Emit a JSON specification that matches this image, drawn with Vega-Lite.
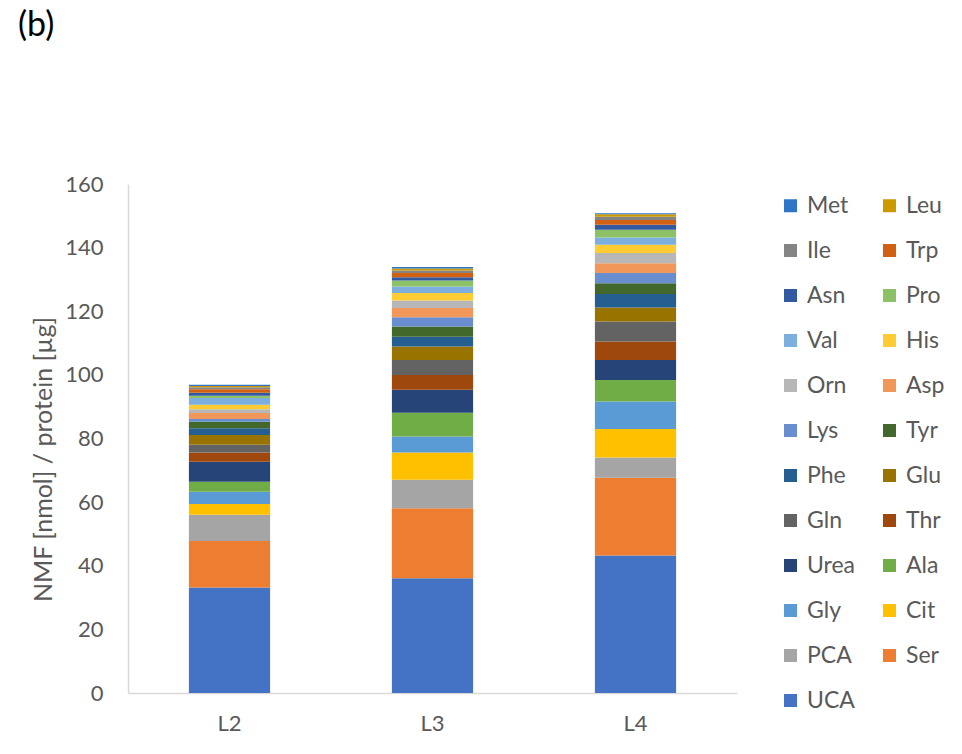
{
  "$schema": "https://vega.github.io/schema/vega-lite/v6.json",
  "autosize": {"type": "none"},
  "width": 609,
  "height": 509,
  "padding": {"left": 128, "top": 184, "right": 225, "bottom": 61},
  "background": "white",
  "title": {"text": "(b)", "anchor": "start", "frame": "group", "fontSize": 34, "fontWeight": "normal", "color": "black", "font": "Lato", "dx": -110, "offset": 130, "baseline": "top"},
  "config": {"view": {"stroke": null}, "font": "Lato"},
  "data": {"values": [
    {"s":"L2","aa":"UCA","k":1,"v":33.2},{"s":"L2","aa":"Ser","k":2,"v":14.6},{"s":"L2","aa":"PCA","k":3,"v":8.2},{"s":"L2","aa":"Cit","k":4,"v":3.4},{"s":"L2","aa":"Gly","k":5,"v":3.9},{"s":"L2","aa":"Ala","k":6,"v":3.1},{"s":"L2","aa":"Urea","k":7,"v":6.3},{"s":"L2","aa":"Thr","k":8,"v":2.9},{"s":"L2","aa":"Gln","k":9,"v":2.4},{"s":"L2","aa":"Glu","k":10,"v":3.1},{"s":"L2","aa":"Phe","k":11,"v":2.1},{"s":"L2","aa":"Tyr","k":12,"v":2.1},{"s":"L2","aa":"Lys","k":13,"v":0.8},{"s":"L2","aa":"Asp","k":14,"v":1.9},{"s":"L2","aa":"Orn","k":15,"v":1.2},{"s":"L2","aa":"His","k":16,"v":1.4},{"s":"L2","aa":"Val","k":17,"v":2.1},{"s":"L2","aa":"Pro","k":18,"v":0.7},{"s":"L2","aa":"Asn","k":19,"v":1.0},{"s":"L2","aa":"Trp","k":20,"v":1.1},{"s":"L2","aa":"Ile","k":21,"v":0.6},{"s":"L2","aa":"Leu","k":22,"v":0.4},{"s":"L2","aa":"Met","k":23,"v":0.4},
    {"s":"L3","aa":"UCA","k":1,"v":36.1},{"s":"L3","aa":"Ser","k":2,"v":22.0},{"s":"L3","aa":"PCA","k":3,"v":8.9},{"s":"L3","aa":"Cit","k":4,"v":8.6},{"s":"L3","aa":"Gly","k":5,"v":5.0},{"s":"L3","aa":"Ala","k":6,"v":7.5},{"s":"L3","aa":"Urea","k":7,"v":7.2},{"s":"L3","aa":"Thr","k":8,"v":4.7},{"s":"L3","aa":"Gln","k":9,"v":4.7},{"s":"L3","aa":"Glu","k":10,"v":4.2},{"s":"L3","aa":"Phe","k":11,"v":3.1},{"s":"L3","aa":"Tyr","k":12,"v":3.2},{"s":"L3","aa":"Lys","k":13,"v":2.9},{"s":"L3","aa":"Asp","k":14,"v":2.9},{"s":"L3","aa":"Orn","k":15,"v":2.4},{"s":"L3","aa":"His","k":16,"v":2.3},{"s":"L3","aa":"Val","k":17,"v":2.1},{"s":"L3","aa":"Pro","k":18,"v":1.9},{"s":"L3","aa":"Asn","k":19,"v":1.0},{"s":"L3","aa":"Trp","k":20,"v":1.3},{"s":"L3","aa":"Ile","k":21,"v":0.8},{"s":"L3","aa":"Leu","k":22,"v":0.6},{"s":"L3","aa":"Met","k":23,"v":0.5},
    {"s":"L4","aa":"UCA","k":1,"v":43.2},{"s":"L4","aa":"Ser","k":2,"v":24.5},{"s":"L4","aa":"PCA","k":3,"v":6.3},{"s":"L4","aa":"Cit","k":4,"v":9.0},{"s":"L4","aa":"Gly","k":5,"v":8.6},{"s":"L4","aa":"Ala","k":6,"v":6.8},{"s":"L4","aa":"Urea","k":7,"v":6.3},{"s":"L4","aa":"Thr","k":8,"v":5.8},{"s":"L4","aa":"Gln","k":9,"v":6.3},{"s":"L4","aa":"Glu","k":10,"v":4.4},{"s":"L4","aa":"Phe","k":11,"v":4.2},{"s":"L4","aa":"Tyr","k":12,"v":3.4},{"s":"L4","aa":"Lys","k":13,"v":3.2},{"s":"L4","aa":"Asp","k":14,"v":3.1},{"s":"L4","aa":"Orn","k":15,"v":3.2},{"s":"L4","aa":"His","k":16,"v":2.6},{"s":"L4","aa":"Val","k":17,"v":2.3},{"s":"L4","aa":"Pro","k":18,"v":2.4},{"s":"L4","aa":"Asn","k":19,"v":1.6},{"s":"L4","aa":"Trp","k":20,"v":1.5},{"s":"L4","aa":"Ile","k":21,"v":1.0},{"s":"L4","aa":"Leu","k":22,"v":0.8},{"s":"L4","aa":"Met","k":23,"v":0.3}
  ]},
  "mark": {"type": "bar"},
  "encoding": {
    "x": {"field": "s", "type": "nominal", "scale": {"paddingInner": 0.6, "paddingOuter": 0.3},
      "axis": {"title": null, "labelAngle": 0, "ticks": false, "domainColor": "#D9D9D9", "domainWidth": 1.5, "labelFontSize": 22, "labelColor": "#595959", "labelPadding": 20}},
    "y": {"field": "v", "type": "quantitative", "aggregate": "sum", "stack": "zero", "scale": {"domain": [0, 160], "nice": false},
      "axis": {"values": [0,20,40,60,80,100,120,140,160], "grid": false, "ticks": false, "domainColor": "#D9D9D9", "domainWidth": 1.5, "labelFontSize": 22, "labelColor": "#595959", "labelPadding": 25, "title": "NMF [nmol] / protein [µg]", "titleFontSize": 25, "titleFontWeight": "normal", "titleColor": "#595959", "titlePadding": 8, "titleY": 275}},
    "color": {"field": "aa", "type": "nominal",
      "scale": {"domain": ["Met","Ile","Asn","Val","Orn","Lys","Phe","Gln","Urea","Gly","PCA","UCA","Leu","Trp","Pro","His","Asp","Tyr","Glu","Thr","Ala","Cit","Ser"],
        "range": ["#2E75C6","#848484","#335AA1","#7CAFDD","#B7B7B7","#698ED0","#255E91","#636363","#264478","#5B9BD5","#A5A5A5","#4472C4","#CC9A00","#D26012","#8CC168","#FFCD33","#F1975A","#43682B","#997300","#9E480E","#70AD47","#FFC000","#ED7D31"]},
      "legend": {"title": null, "orient": "none", "legendX": 651, "legendY": 10, "columns": 2, "symbolType": "square", "symbolSize": 169, "symbolStrokeWidth": 0, "labelFontSize": 23, "labelColor": "#595959", "labelOffset": 5, "rowPadding": 21, "columnPadding": 22}},
    "order": {"field": "k", "type": "quantitative", "sort": "ascending"}
  }
}
